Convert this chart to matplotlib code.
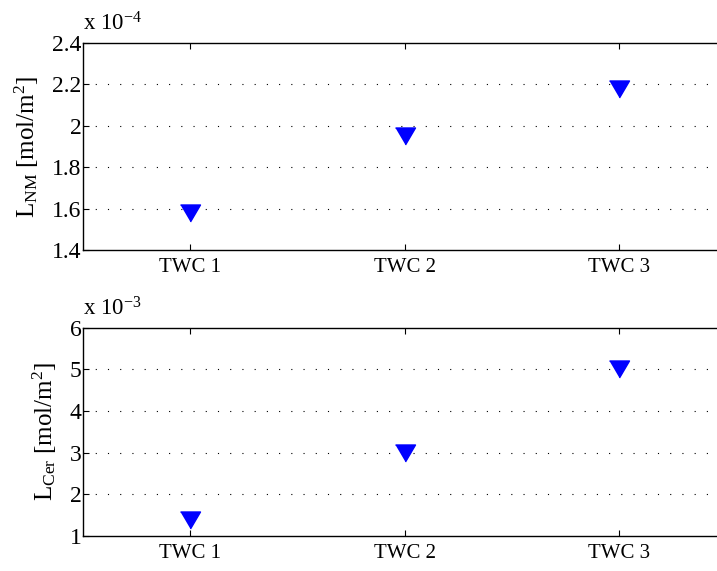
import matplotlib
matplotlib.use('Agg')
import matplotlib.pyplot as plt

# data
categories = ['TWC 1', 'TWC 2', 'TWC 3']
l_nm = [1.58, 1.95, 2.18]      # x 1e-4 mol/m^2
l_cer = [1.39, 3.00, 5.02]     # x 1e-3 mol/m^2
nm_ticks = [1.4, 1.6, 1.8, 2.0, 2.2, 2.4]
cer_ticks = [1, 2, 3, 4, 5, 6]

plt.rcParams['font.family'] = ['Liberation Serif', 'DejaVu Serif']
plt.rcParams['font.size'] = 15
plt.rcParams['mathtext.fontset'] = 'custom'
plt.rcParams['mathtext.rm'] = 'Liberation Serif'
plt.rcParams['mathtext.it'] = 'Liberation Serif:italic'

fig = plt.figure(figsize=(7.17, 5.71), dpi=100)
# axes run past the right edge of the figure, as in the reference
ax1 = fig.add_axes([0.1158, 0.5622, 0.95, 0.3625])
ax2 = fig.add_axes([0.1158, 0.0618, 0.95, 0.364])

x = list(range(1, len(categories) + 1))
tri = [(-1, 0.85), (1, 0.85), (0, -0.85)]  # flat downward triangle


def style(ax, yvals, ticks, ylabel, expo):
    ax.plot(x, yvals, linestyle='none', marker=tri, markersize=14.4,
            color='#0000ff', markeredgecolor='#0000ff', zorder=3)
    ax.set_xlim(0.5, 0.5 + 3 * 0.95 / 0.897)
    ax.set_ylim(ticks[0], ticks[-1])
    ax.set_xticks(x)
    ax.set_xticklabels(categories)
    ax.set_yticks(ticks)
    ax.set_yticklabels([f'{t:g}' for t in ticks], fontsize=17)
    ax.tick_params(axis='x', direction='in', top=True, length=4,
                   width=0.8, pad=6)
    ax.tick_params(axis='y', direction='in', right=False, length=4,
                   width=0.8, pad=1)
    for t in ticks[1:-1]:
        ax.axhline(t, color='black', linewidth=0.8,
                   linestyle=(0, (1, 10)), zorder=1)
    for s in ax.spines.values():
        s.set_linewidth(1.0)
    ax.spines['right'].set_visible(False)
    ax.set_ylabel(ylabel, labelpad=8, fontsize=18)
    ax.text(0.0, 1.035, r'x 10$^{' + expo + '}$', transform=ax.transAxes,
            ha='left', va='bottom', fontsize=16.5)


style(ax1, l_nm, nm_ticks, r'L$_{\mathrm{NM}}$ [mol/m$^2$]', '\u22124')
style(ax2, l_cer, cer_ticks, r'L$_{\mathrm{Cer}}$ [mol/m$^2$]', '\u22123')

fig.savefig('out.png', dpi=100)
